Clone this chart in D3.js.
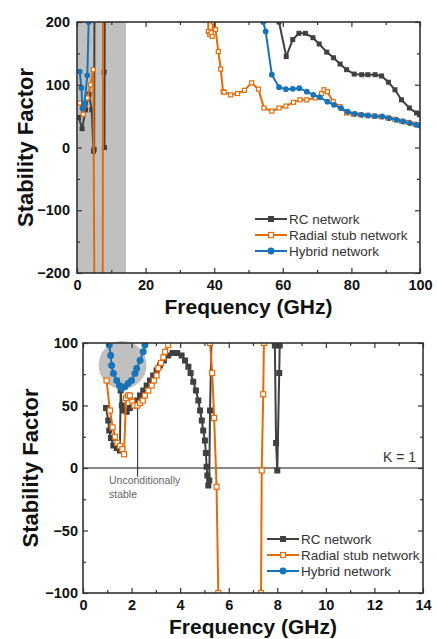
<!DOCTYPE html>
<html>
<head>
<meta charset="utf-8">
<script src="https://cdn.jsdelivr.net/npm/d3@7"></script>
<style>
  body { margin: 0; background: #fff; }
  svg { display: block; font-family: Arial, 'Liberation Sans', sans-serif; }
</style>
</head>
<body>
<div id="chart"></div>
<script>
const seriesNames = ['RC network', 'Radial stub network', 'Hybrid network']
const seriesColors = ['#404040', '#e36c09', '#1873b9']

// top panel, 0-100 GHz
const rcWideFreq = [0.5, 1.5, 2.5, 3.5, 4.3, 4.8, 5.0, 5.1, 7.8, 7.9, 8.0, 8.1, 58, 58.9, 61, 62.9, 64.7, 66.6, 68.8, 70.6, 72.8, 74.8, 76.7, 78.6, 80.8, 83, 84.8, 86.9, 88.8, 90.8, 92.7, 94.6, 96.9, 99, 100]
const rcWideK = [48, 30, 60, 85, 60, -6, -3, 260, 260, 120, 0, 260, 260, 200, 145, 172, 182, 182, 175, 165, 152, 143, 133, 124, 117, 116, 116, 116, 114, 104, 92, 76, 63, 55, 53]
const stubWideFreq = [0.8, 1.8, 3.0, 4.0, 4.75, 5.1, 7.5, 7.6, 38, 38.3, 38.7, 39.1, 39.4, 39.7, 40.0, 40.4, 41.2, 41.9, 42.6, 42.9, 44.8, 46.8, 48.8, 50.9, 52.9, 54.5, 56.8, 58.9, 60.9, 63.1, 65, 67, 69.4, 71.3, 72, 73, 74.7, 76.7, 78.6, 80.6, 82.6, 84.6, 86.6, 88.6, 90.6, 92.6, 94.6, 96.6, 98.6, 100]
const stubWideK = [71, 53, 79, 100, 124, -260, -260, 260, 260, 185, 180, 183, 177, 200, 205, 188, 153, 125, 89, 88, 84, 86, 91, 103, 93, 63, 58, 63, 66, 72, 76, 76, 79, 86, 92, 89, 73, 65, 55, 53, 52, 51, 50, 49, 47, 45, 42, 40, 37, 36]
const hybridWideFreq = [0.8, 1.3, 1.6, 2.2, 3.0, 3.4, 3.6, 54, 54.3, 55, 56.8, 58.9, 60.9, 62.9, 64.8, 67, 68.9, 70.8, 73, 74.9, 77, 78.9, 81, 83, 84.9, 86.9, 89, 91, 93.2, 95.1, 97.1, 99, 100]
const hybridWideK = [121, 95, 62, 70, 115, 200, 260, 260, 200, 185, 116, 96, 93, 93.5, 94.5, 89, 84, 80, 73, 68, 62.7, 57, 53.7, 52, 51, 50, 49.4, 46.8, 44, 41.4, 38.8, 36, 35]
const wideFreqTicks = [0, 20, 40, 60, 80, 100]
const wideFreqMinor = [10, 30, 50, 70, 90]
const wideKTicks = [-200, -100, 0, 100, 200]
const wideKMinor = [-150, -50, 50, 150]
const shadedBand = [0, 14.3]

// bottom panel, 0-14 GHz
const rcZoomFreq = [0.95, 1.04, 1.08, 1.15, 1.25, 1.39, 1.52, 1.55, 1.6, 1.69, 1.8, 1.93, 2.07, 2.21, 2.35, 2.48, 2.62, 2.76, 2.89, 3.03, 3.17, 3.33, 3.51, 3.69, 3.88, 4.06, 4.2, 4.34, 4.43, 4.54, 4.65, 4.75, 4.82, 4.89, 4.95, 5.02, 5.06, 5.09, 5.12, 5.16, 5.2, 5.23, 5.3, 7.85, 7.9, 7.95, 8.0, 8.08, 8.1, 8.15]
const rcZoomK = [48, 38, 30, 24, 18, 16, 14, 62, 50, 46, 45, 48, 50, 54, 58, 62, 66, 70, 74, 78, 82, 86, 90, 92, 92, 90, 86, 81, 76, 69, 62, 54, 46, 38, 30, 22, 12, 1, -6, -14, -10, 46, 110, 110, 98, 20, -2, 76, 98, 110]
const stubZoomFreq = [0.97, 1.11, 1.22, 1.32, 1.41, 1.52, 1.62, 1.69, 1.77, 1.85, 1.93, 2.03, 2.11, 2.24, 2.35, 2.46, 2.55, 2.69, 2.83, 2.92, 3.03, 3.1, 3.21, 3.31, 3.38, 3.51, 3.6, 5.2, 5.23, 5.32, 5.4, 5.5, 5.57, 5.6, 7.3, 7.33, 7.36, 7.42, 7.45, 7.5]
const stubZoomK = [70, 46, 32.5, 25, 20, 17.6, 15, 11, 56, 58, 58, 53, 50, 50, 52, 54, 58, 62, 66, 70, 74, 80, 84, 88.5, 93, 98.4, 110, 110, 100, 76, 40, -15, -100, -110, -110, -100, -2, 59, 100, 110]
const hybridZoomFreq = [1.0, 1.08, 1.14, 1.18, 1.25, 1.39, 1.5, 1.59, 1.73, 1.86, 2.0, 2.14, 2.21, 2.35, 2.48, 2.55, 2.6]
const hybridZoomK = [110, 98.4, 90, 82, 75.7, 70, 66, 63.8, 65, 67.7, 70, 75.7, 79.7, 86, 93, 98.4, 110]
const zoomFreqTicks = [0, 2, 4, 6, 8, 10, 12, 14]
const zoomFreqMinor = [1, 3, 5, 7, 9, 11, 13]
const zoomKTicks = [-100, -50, 0, 50, 100]
const zoomKMinor = [-75, -25, 25, 75]
const stableSpot = [1.63, 82.4]
const pointerFreq = 2.25
const pointerK = [60, -7]

const svg = d3
  .select('#chart')
  .append('svg')
  .attr('width', 437)
  .attr('height', 639)

function drawMarker(sel, i, size) {
  if (i === 2) {
    sel.append('circle').attr('r', size * 0.58).attr('fill', seriesColors[i])
  } else {
    const s = i === 1 ? size - 1 : size
    sel
      .append('rect')
      .attr('x', -s / 2)
      .attr('y', -s / 2)
      .attr('width', s)
      .attr('height', s)
      .attr('fill', i === 1 ? '#fff' : seriesColors[i])
      .attr('stroke', i === 1 ? seriesColors[i] : 'none')
      .attr('stroke-width', 1.2)
  }
}

function drawPanel(p) {
  const x = d3.scaleLinear().domain(p.xDomain).range([p.left, p.right])
  const y = d3.scaleLinear().domain(p.yDomain).range([p.bottom, p.top])
  const g = svg.append('g')

  g.append('clipPath')
    .attr('id', p.id)
    .append('rect')
    .attr('x', p.left)
    .attr('y', p.top)
    .attr('width', p.right - p.left)
    .attr('height', p.bottom - p.top)

  p.behind(g, x, y)

  p.series.forEach(function(s, i) {
    const pts = s.freq.map((f, j) => [f, s.k[j]])
    const sg = g.append('g').attr('clip-path', `url(#${p.id})`)
    sg.append('path')
      .datum(pts)
      .attr('d', d3.line().x(d => x(d[0])).y(d => y(d[1])))
      .attr('fill', 'none')
      .attr('stroke', seriesColors[i])
      .attr('stroke-width', 2)
    sg.selectAll('g')
      .data(pts)
      .enter()
      .append('g')
      .attr('transform', d => `translate(${x(d[0])},${y(d[1])})`)
      .each(function() {
        drawMarker(d3.select(this), i, p.markerSize)
      })
  })

  // axes with inward ticks, mirrored top and right
  const axes = [
    [d3.axisBottom(x), p.bottom, 0, p.xTicks, p.xMinor, true],
    [d3.axisTop(x), p.top, 0, p.xTicks, p.xMinor, false],
    [d3.axisLeft(y), 0, p.left, p.yTicks, p.yMinor, true],
    [d3.axisRight(y), 0, p.right, p.yTicks, p.yMinor, false]
  ]
  axes.forEach(function([axis, ty, tx, major, minor, labelled]) {
    const a = g.append('g').attr('transform', `translate(${tx},${ty})`)
    a.call(
      axis
        .tickValues(major)
        .tickSizeInner(-5)
        .tickSizeOuter(0)
        .tickPadding(ty ? 7 : p.yPad)
        .tickFormat(labelled ? d3.format('d') : '')
    )
    a.select('.domain').remove()
    a.selectAll('line').attr('stroke', '#333').attr('stroke-width', 1.2)
    a.selectAll('text')
      .attr('font-size', 14.5)
      .attr('font-weight', 'bold')
      .attr('fill', '#111')
      .attr('font-family', 'Arial, Liberation Sans, sans-serif')
    const m = g.append('g').attr('transform', `translate(${tx},${ty})`)
    m.call(axis.tickValues(minor).tickSizeInner(-3).tickFormat(''))
    m.select('.domain').remove()
    m.selectAll('line').attr('stroke', '#333').attr('stroke-width', 1.2)
  })

  g.append('rect')
    .attr('x', p.left)
    .attr('y', p.top)
    .attr('width', p.right - p.left)
    .attr('height', p.bottom - p.top)
    .attr('fill', 'none')
    .attr('stroke', '#333')
    .attr('stroke-width', 1.6)

  g.append('text')
    .text('Frequency (GHz)')
    .attr('x', (p.left + p.right) / 2)
    .attr('y', p.xTitleY)
    .attr('text-anchor', 'middle')
    .attr('font-size', 21)
    .attr('font-weight', 'bold')
    .attr('fill', '#111')

  g.append('text')
    .text('Stability Factor')
    .attr('transform', `translate(${p.yTitleX},${(p.top + p.bottom) / 2}) rotate(-90)`)
    .attr('text-anchor', 'middle')
    .attr('font-size', 22)
    .attr('font-weight', 'bold')
    .attr('fill', '#111')

  // legend
  seriesNames.forEach(function(name, i) {
    const ly = p.legend.y + i * p.legend.step
    const lg = g.append('g')
    lg.append('line')
      .attr('x1', p.legend.x)
      .attr('x2', p.legend.x + 32)
      .attr('y1', ly)
      .attr('y2', ly)
      .attr('stroke', seriesColors[i])
      .attr('stroke-width', 2)
    const mk = lg.append('g').attr('transform', `translate(${p.legend.x + 16},${ly})`)
    drawMarker(mk, i, 6)
    lg.append('text')
      .text(name)
      .attr('x', p.legend.x + 34)
      .attr('y', ly + 4.5)
      .attr('font-size', 13.5)
      .attr('fill', '#333')
  })

  p.front(g, x, y)
}

drawPanel({
  id: 'clip-wide',
  left: 77,
  right: 420,
  top: 22,
  bottom: 273,
  xDomain: [0, 100],
  yDomain: [-200, 200],
  xTicks: wideFreqTicks,
  xMinor: wideFreqMinor,
  yTicks: wideKTicks,
  yMinor: wideKMinor,
  yPad: 7,
  markerSize: 5,
  xTitleY: 314,
  yTitleX: 33,
  legend: { x: 255, y: 219, step: 16 },
  series: [
    { freq: rcWideFreq, k: rcWideK },
    { freq: stubWideFreq, k: stubWideK },
    { freq: hybridWideFreq, k: hybridWideK }
  ],
  behind: function(g, x, y) {
    g.append('rect')
      .attr('x', x(shadedBand[0]))
      .attr('y', y(200))
      .attr('width', x(shadedBand[1]) - x(shadedBand[0]))
      .attr('height', y(-200) - y(200))
      .attr('fill', '#c0c0c0')
  },
  front: function() {}
})

drawPanel({
  id: 'clip-zoom',
  left: 83,
  right: 423,
  top: 343,
  bottom: 593,
  xDomain: [0, 14],
  yDomain: [-100, 100],
  xTicks: zoomFreqTicks,
  xMinor: zoomFreqMinor,
  yTicks: zoomKTicks,
  yMinor: zoomKMinor,
  yPad: 5,
  markerSize: 6,
  xTitleY: 634,
  yTitleX: 38,
  legend: { x: 267, y: 539, step: 16 },
  series: [
    { freq: rcZoomFreq, k: rcZoomK },
    { freq: stubZoomFreq, k: stubZoomK },
    { freq: hybridZoomFreq, k: hybridZoomK }
  ],
  behind: function(g, x, y) {
    g.append('circle')
      .attr('cx', x(stableSpot[0]))
      .attr('cy', y(stableSpot[1]))
      .attr('r', 24)
      .attr('fill', '#c0c0c0')
    g.append('line')
      .attr('x1', x(0))
      .attr('x2', x(14))
      .attr('y1', y(0))
      .attr('y2', y(0))
      .attr('stroke', '#111')
      .attr('stroke-width', 1)
    g.append('line')
      .attr('x1', x(pointerFreq))
      .attr('x2', x(pointerFreq))
      .attr('y1', y(pointerK[0]))
      .attr('y2', y(pointerK[1]))
      .attr('stroke', '#222')
      .attr('stroke-width', 1)
  },
  front: function(g, x, y) {
    g.append('text')
      .text('Unconditionally')
      .attr('x', 109)
      .attr('y', 484)
      .attr('font-size', 10.5)
      .attr('fill', '#666')
    g.append('text')
      .text('stable')
      .attr('x', 109)
      .attr('y', 498)
      .attr('font-size', 10.5)
      .attr('fill', '#666')
    g.append('text')
      .text('K = 1')
      .attr('x', 416)
      .attr('y', 462)
      .attr('text-anchor', 'end')
      .attr('font-size', 14)
      .attr('fill', '#333')
  }
})
</script>
</body>
</html>
